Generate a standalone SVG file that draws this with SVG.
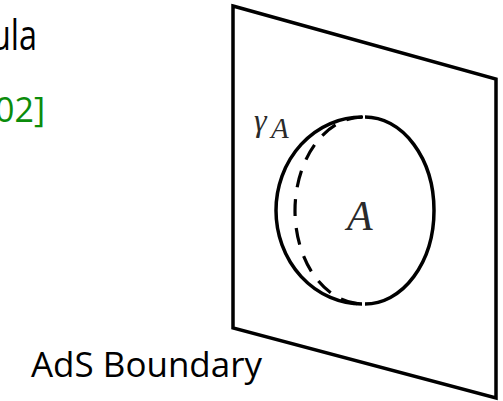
<svg xmlns="http://www.w3.org/2000/svg" width="503" height="401" viewBox="0 0 503 401">
  <style>
    .edge { fill: none; stroke: #000; stroke-width: 3.5; stroke-linejoin: miter; }
    .dash { fill: none; stroke: #000; stroke-width: 3.2; stroke-dasharray: 17 12; }
    .label { font-family: "Open Sans", "Liberation Sans", sans-serif; fill: #000; }
    .math { font-family: "Liberation Serif", "DejaVu Serif", serif; font-style: italic; fill: #2a2a2a; }
  </style>
  <rect width="503" height="401" fill="#fff"/>
  <g id="title">
    <text class="label" x="-9" y="50" font-size="42" textLength="46" lengthAdjust="spacingAndGlyphs">ula</text>
  </g>
  <g id="citation">
    <text class="label" x="-5" y="122" font-size="34" style="fill:#0b8c0b">02]</text>
  </g>
  <g id="boundary-plane">
    <polygon class="edge" points="233,6 496,79 496,398 233,328"/>
  </g>
  <g id="region-A">
    <path class="edge" d="M 362,117 A 86 93.5 0 0 0 362,304"/>
    <path class="edge" d="M 365,117 A 69 93.5 0 0 1 365,304"/>
    <text class="math" x="347" y="230" font-size="42">A</text>
  </g>
  <g id="surface-gamma">
    <path class="dash" d="M 363,117 A 68 93.5 0 0 0 363,304"/>
    <text class="math" x="254" y="131" font-size="32">γ</text>
    <text class="math" x="271" y="138" font-size="29">A</text>
  </g>
  <g id="boundary-label">
    <text class="label" x="31" y="377" font-size="35" textLength="231" lengthAdjust="spacingAndGlyphs">AdS Boundary</text>
  </g>
</svg>
